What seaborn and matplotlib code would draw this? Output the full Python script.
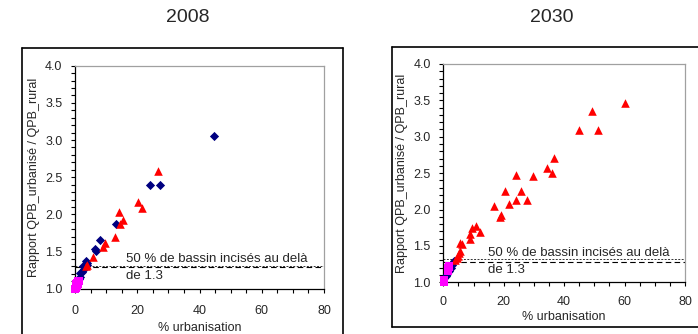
import pandas as pd
import matplotlib.pyplot as plt
import seaborn as sns
from matplotlib.ticker import MultipleLocator
from matplotlib.lines import Line2D

sns.set_style('white')
plt.rcParams['font.family'] = ['Liberation Sans', 'DejaVu Sans']

# 2008
navy_2008_x = [44.8, 24.2, 27.4, 13.3, 7.9, 6.3, 6.7, 3.5, 4.0, 3.7, 2.9, 2.5, 2.1, 1.6, 1.5, 1.2, 0.9, 0.6]
navy_2008_y = [3.05, 2.40, 2.40, 1.87, 1.66, 1.54, 1.51, 1.37, 1.35, 1.32, 1.27, 1.30, 1.22, 1.21, 1.16, 1.13, 1.10, 1.07]
red_2008_x = [26.7, 20.2, 21.6, 14.0, 15.3, 14.5, 12.9, 9.6, 9.0, 5.8, 3.9, 3.5]
red_2008_y = [2.59, 2.17, 2.09, 2.03, 1.92, 1.87, 1.70, 1.62, 1.56, 1.42, 1.32, 1.30]
mag_2008_x = [0.1, 0.2, 0.3, 0.4, 0.5, 0.6, 0.8, 1.0, 1.2, 0.3, 0.7, 0.9]
mag_2008_y = [1.00, 1.01, 1.02, 1.03, 1.04, 1.05, 1.07, 1.09, 1.11, 1.06, 1.08, 1.10]

# 2030
navy_2030_x = [0.3, 0.8, 1.3, 1.8, 2.4, 3.0, 3.6]
navy_2030_y = [1.06, 1.09, 1.12, 1.15, 1.19, 1.24, 1.29]
red_2030_x = [60.1, 49.2, 45.0, 51.1, 36.8, 34.3, 36.0, 24.2, 29.6, 20.5, 25.6, 21.8, 24.0, 27.7,
              16.8, 19.1, 18.8, 10.7, 9.6, 12.1, 8.8, 8.9, 5.6, 6.2, 5.6, 5.2, 4.7, 4.4, 3.8]
red_2030_y = [3.47, 3.36, 3.09, 3.09, 2.71, 2.57, 2.50, 2.48, 2.46, 2.26, 2.25, 2.08, 2.13, 2.13,
              2.05, 1.92, 1.90, 1.78, 1.75, 1.69, 1.66, 1.59, 1.54, 1.52, 1.43, 1.40, 1.36, 1.33, 1.30]
mag_2030_x = [0.2, 0.3, 1.4, 1.7, 2.0, 1.9, 1.6]
mag_2030_y = [1.01, 1.03, 1.16, 1.19, 1.22, 1.21, 1.17]

titles = ['2008', '2030']
seuil_txt = ['50 % de bassin incisés au delà', 'de 1.3']


def frame(xs, ys, year):
    parts = []
    for name, x, y in zip(['S1', 'S2', 'S3'], xs, ys):
        parts.append(pd.DataFrame({'x': x, 'y': y, 'serie': name, 'annee': year}))
    return pd.concat(parts, ignore_index=True)


data = pd.concat([
    frame([navy_2008_x, red_2008_x, mag_2008_x], [navy_2008_y, red_2008_y, mag_2008_y], '2008'),
    frame([navy_2030_x, red_2030_x, mag_2030_x], [navy_2030_y, red_2030_y, mag_2030_y], '2030'),
])

colors = {'S1': '#000080', 'S2': '#ff0000', 'S3': '#ff00ff'}
markers = {'S1': 'D', 'S2': '^', 'S3': 's'}
sizes = {'S1': 22, 'S2': 38, 'S3': 30}

fig = plt.figure(figsize=(6.98, 3.34), dpi=100)
axes = [fig.add_axes([0.1075, 0.1356, 0.3567, 0.6677]),
        fig.add_axes([0.6351, 0.1548, 0.3463, 0.6536])]
lines = [(1.31, 1.295), (1.315, 1.28)]
txt_x = [16.5, 14.8]
pads = [(9, 3), (7, 2)]

for ax, year, (dot_y, dash_y), tx, (tpad, lpad) in zip(axes, titles, lines, txt_x, pads):
    d = data[data['annee'] == year]
    for s in ['S1', 'S2', 'S3']:
        sub = d[d['serie'] == s]
        sns.scatterplot(data=sub, x='x', y='y', ax=ax, color=colors[s], marker=markers[s],
                        s=sizes[s], linewidth=0, legend=False, clip_on=False, zorder=3)
    ax.axhline(dot_y, color='#333333', lw=0.7, ls=(0, (2, 1.5)))
    ax.axhline(dash_y, color='black', lw=0.8, ls=(0, (5, 3)))
    ax.text(tx, 1.40, seuil_txt[0], fontsize=9.5, va='center')
    ax.text(tx, 1.17, seuil_txt[1], fontsize=9.5, va='center')
    ax.set_xlim(0, 80)
    ax.set_ylim(1.0, 4.0)
    ax.xaxis.set_major_locator(MultipleLocator(20))
    ax.xaxis.set_minor_locator(MultipleLocator(5))
    ax.yaxis.set_major_locator(MultipleLocator(0.5))
    ax.yaxis.set_minor_locator(MultipleLocator(0.1))
    ax.yaxis.set_major_formatter(plt.FormatStrFormatter('%.1f'))
    ax.tick_params(which='major', direction='out', length=3, width=0.8, labelsize=9, pad=6,
                   left=True, bottom=True, color='black')
    ax.tick_params(axis='x', which='major', pad=tpad)
    ax.tick_params(which='minor', direction='out', length=3, width=0.8, left=True, bottom=True,
                   color='black')
    ax.set_xlabel('% urbanisation', fontsize=9, labelpad=lpad)
    ax.set_ylabel('Rapport QPB_urbanisé / QPB_rural', fontsize=9, labelpad=4)
    for side in ['left', 'bottom']:
        ax.spines[side].set_color('black')
        ax.spines[side].set_linewidth(0.9)
    for side in ['top', 'right']:
        ax.spines[side].set_color('#a0a0a0')
        ax.spines[side].set_linewidth(0.9)

fig.text(188 / 698, 1 - 18 / 334, titles[0], fontsize=14, ha='center', va='center')
fig.text(552 / 698, 1 - 18 / 334, titles[1], fontsize=14, ha='center', va='center')


# chart boxes
def fx(p):
    return p / 698


def fy(p):
    return 1 - p / 334


for xs, ys in [([22, 22], [48, 340]), ([22, 342.7], [48, 48]), ([342.7, 342.7], [48, 340]),
               ([391.7, 391.7], [46.7, 327]), ([391.7, 705], [46.7, 46.7]), ([391.7, 705], [327, 327])]:
    fig.add_artist(Line2D([fx(v) for v in xs], [fy(v) for v in ys], color='black', lw=1.2))

fig.savefig('out.png', dpi=100)
